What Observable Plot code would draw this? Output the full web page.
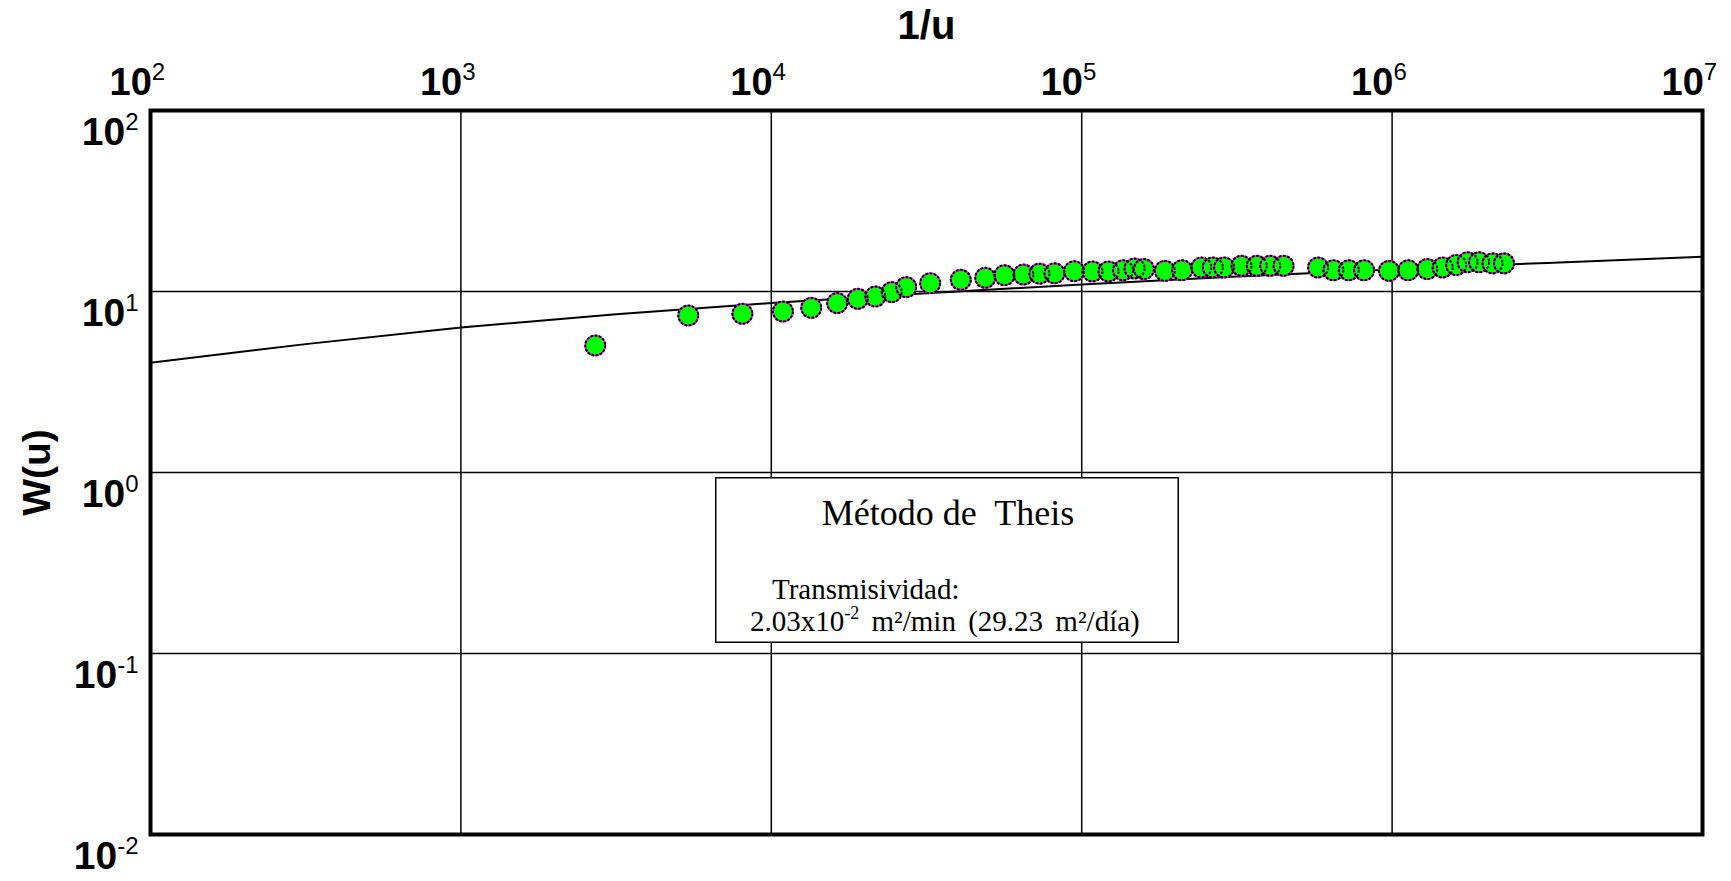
<!DOCTYPE html>
<html><head><meta charset="utf-8">
<script src="https://cdn.jsdelivr.net/npm/d3@7"></script>
<script src="https://cdn.jsdelivr.net/npm/@observablehq/plot@0.6"></script>
<style>
body{margin:0;background:#fff;}
#wrap{position:relative;width:1731px;height:881px;}
#box{position:absolute;left:715px;top:477px;width:464px;height:166px;}
</style></head><body><div id="wrap"></div>
<script>
// Observed data (1/u, W(u))
const invU = [2709, 5402, 8072, 10900, 13450, 16300, 19000, 21630, 24430, 27200, 32500, 40780, 48880, 56370, 64930, 73080, 81740, 94520, 108300, 122000, 135900, 148000, 158700, 185300, 210600, 242900, 264500, 287700, 327200, 366400, 404900, 447100, 577600, 647100, 725300, 812400, 977300, 1127000, 1298000, 1455000, 1608000, 1751000, 1907000, 2106000, 2294000];
const wObs = [5.03, 7.37, 7.53, 7.75, 8.12, 8.63, 9.11, 9.38, 9.92, 10.57, 11.1, 11.6, 11.9, 12.3, 12.4, 12.55, 12.6, 12.95, 12.9, 12.9, 13.1, 13.4, 13.3, 13.0, 13.1, 13.57, 13.57, 13.57, 13.86, 13.86, 13.86, 13.86, 13.57, 13.1, 13.1, 13.1, 13.0, 13.1, 13.3, 13.57, 14.0, 14.5, 14.5, 14.3, 14.3];
// Type curve
const curveInvU = [1e2, 3.16e2, 1e3, 3.16e3, 1e4, 3.16e4, 1e5, 3.16e5, 1e6, 3.16e6, 1e7];
const curveW = [4.04, 5.12, 6.33, 7.48, 8.63, 9.78, 10.94, 12.09, 13.24, 14.39, 15.54];
// Axis ticks
const xTicks = [1e2, 1e3, 1e4, 1e5, 1e6, 1e7];
const yTicks = [1e-2, 1e-1, 1e0, 1e1, 1e2];
const xTitle = "1/u";
const yTitle = "W(u)";
const boxTitle = "Método de  Theis";
const boxLine1 = "Transmisividad:";
const boxLine2a = "2.03x10";
const boxLine2exp = "-2";
const boxLine2b = " m²/min (29.23 m²/día)";

const points = invU.map((x, i) => ({x, y: wObs[i]}));
const curve = curveInvU.map((x, i) => ({x, y: curveW[i]}));

const plot = Plot.plot({
  width: 1731, height: 881,
  marginLeft: 150, marginRight: 29, marginTop: 110, marginBottom: 47,
  style: {fontFamily: "'Liberation Sans', Arial, sans-serif", fontWeight: "bold", fontSize: "38px", color: "#000", background: "#fff", overflow: "visible"},
  x: {type: "log", domain: [1e2, 1e7]},
  y: {type: "log", domain: [1e-2, 1e2]},
  marks: [
    Plot.gridX(xTicks, {stroke: "#000", strokeOpacity: 1, strokeWidth: 1.5}),
    Plot.gridY(yTicks, {stroke: "#000", strokeOpacity: 1, strokeWidth: 1.5}),
    Plot.axisX({anchor: "top", ticks: xTicks, tickSize: 0, tickPadding: 16, tickFormat: d => String(Math.round(Math.log10(d))), label: null, fontSize: 38}),
    Plot.axisY({anchor: "left", ticks: yTicks, tickSize: 0, tickPadding: 12, dy: 22, tickFormat: d => String(Math.round(Math.log10(d))), label: null, fontSize: 39}),
    Plot.axisX({anchor: "top", ticks: [], label: xTitle, labelAnchor: "center", labelArrow: "none", labelOffset: 100, fontSize: 40}),
    Plot.axisY({anchor: "left", ticks: [], label: yTitle, labelAnchor: "center", labelArrow: "none", labelOffset: 128, fontSize: 39}),
    Plot.line(curve, {x: "x", y: "y", stroke: "#000", strokeWidth: 2}),
    Plot.dot(points, {x: "x", y: "y", r: 10, fill: "#00ff00", stroke: "#ff00ff", strokeWidth: 1.6}),
    Plot.dot(points, {x: "x", y: "y", r: 10, fill: "none", stroke: "#000", strokeWidth: 2, strokeDasharray: "2.6,1.6"}),
    Plot.frame({stroke: "#000", strokeWidth: 4})
  ]
});
document.getElementById("wrap").appendChild(plot);

// superscript tick labels
const NS = "http://www.w3.org/2000/svg";
function supify(sel, isX) {
  plot.querySelectorAll(sel).forEach(t => {
    const e = t.textContent; t.textContent = "";
    const a = document.createElementNS(NS, "tspan"); a.textContent = "10";
    const b = document.createElementNS(NS, "tspan"); b.textContent = e;
    b.setAttribute("font-size", "24"); b.setAttribute("dy", "-0.62em"); b.setAttribute("font-weight", "normal");
    t.appendChild(a); t.appendChild(b);
    if (isX) { t.setAttribute("text-anchor", "start"); a.setAttribute("dx", "-41"); }
  });
}
supify('g[aria-label="x-axis tick label"] text', true);
supify('g[aria-label="y-axis tick label"] text', false);

// annotation box
const keepSpaces = s => s.replace(/  /g, "\u00a0 ");
const box = document.createElement("div"); box.id = "box";
box.innerHTML = `<svg width="464" height="166" style="display:block">
<rect x="0.75" y="0.75" width="462.5" height="164.5" fill="#fff" stroke="#000" stroke-width="1.5"/>
<g font-family="'Liberation Serif','Times New Roman',serif" fill="#000">
<text x="233" y="48" text-anchor="middle" font-size="36">${keepSpaces(boxTitle)}</text>
<text x="57" y="122" font-size="29">${boxLine1}</text>
<text x="35" y="154" font-size="29" word-spacing="5">${boxLine2a}<tspan font-size="18" dy="-12">${boxLine2exp}</tspan><tspan dy="12">${boxLine2b}</tspan></text>
</g></svg>`;
document.getElementById("wrap").appendChild(box);
</script>
</body></html>
